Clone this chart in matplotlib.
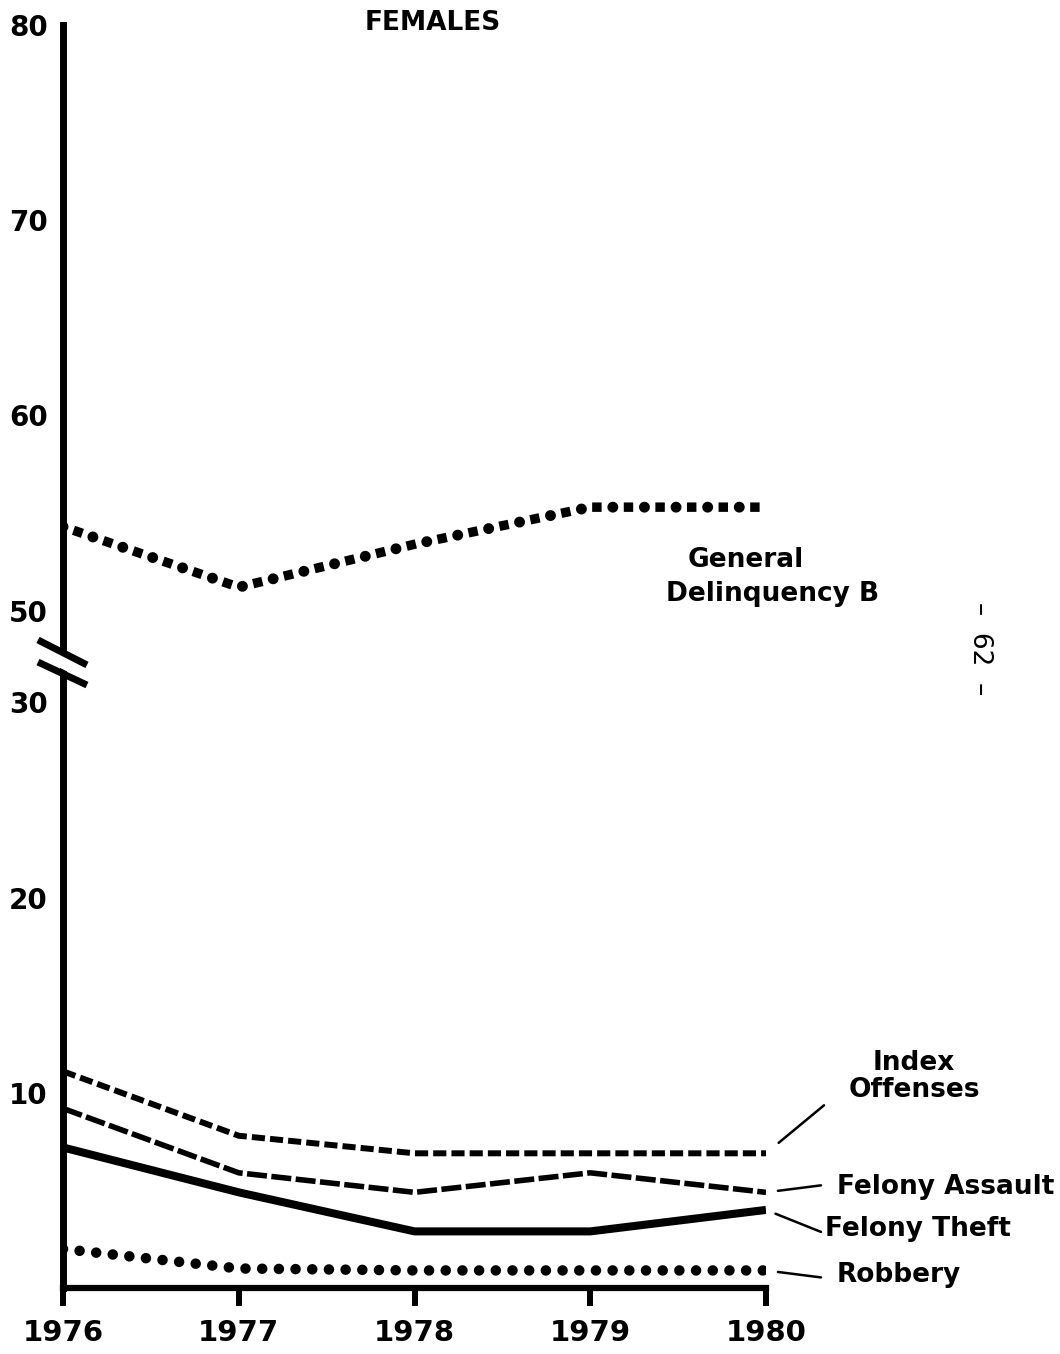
import numpy as np
import matplotlib
matplotlib.use("Agg")
import matplotlib.pyplot as plt

plt.rcParams['font.family'] = ['DejaVu Sans']
plt.rcParams['font.weight'] = 'bold'

years = [1976, 1977, 1978, 1979, 1980]
general_delinquency = [54.3, 51.2, 53.4, 55.3, 55.3]
index_offenses = [11.1, 7.8, 6.9, 6.9, 6.9]
felony_assault = [9.2, 5.9, 4.9, 5.9, 4.9]
felony_theft = [7.2, 4.9, 2.9, 2.9, 4.0]
robbery = [2.0, 1.0, 0.9, 0.9, 0.9]
ytick_values = [10, 20, 30, 50, 60, 70, 80]


# broken y axis: 30..50 squeezed into a short stretch
def fwd(v):
    v = np.asarray(v, dtype=float)
    return np.where(v <= 30, v, np.where(v >= 50, v - 15.3, 30 + (v - 30) * 0.235))


def inv(d):
    d = np.asarray(d, dtype=float)
    return np.where(d <= 30, d, np.where(d >= 34.7, d + 15.3, 30 + (d - 30) / 0.235))


fig = plt.figure(figsize=(10.6, 13.54), dpi=100)
ax = fig.add_axes([63 / 1060, 1 - 1288 / 1354, 703 / 1060, 1263 / 1354])
ax.set_yscale('function', functions=(fwd, inv))
ax.set_xlim(1976, 1980)
ax.set_ylim(0, 80)

# General Delinquency B: alternating circles and squares
ax.plot(years, general_delinquency, color='black', lw=7.9,
        linestyle=(0, (0.001, 2.88)), dash_capstyle='round')
ax.plot(years, general_delinquency, color='black', lw=6.8,
        linestyle=(1.67, (0.001, 3.345)), dash_capstyle='projecting')

ax.plot(years, index_offenses, color='black', lw=4.3,
        linestyle=(0, (2.2, 0.85)), dash_capstyle='butt')
ax.plot(years, felony_assault, color='black', lw=4.0,
        linestyle=(0, (3.6, 0.8)), dash_capstyle='butt')
ax.plot(years, felony_theft, color='black', lw=5.8, solid_capstyle='butt')
ax.plot(years, robbery, color='black', lw=7.6,
        linestyle=(0, (0.001, 1.58)), dash_capstyle='round')

for s in ['top', 'right']:
    ax.spines[s].set_visible(False)
ax.spines['left'].set_linewidth(5)
ax.spines['bottom'].set_linewidth(4.5)

ax.set_xticks(years)
ax.set_xticklabels([str(y) for y in years], fontsize=21, fontweight='bold')
ax.tick_params(axis='x', length=13, width=4.3, pad=9, direction='out')
ax.set_yticks(ytick_values)
ax.set_yticklabels([str(v) for v in ytick_values], fontsize=20, fontweight='bold')
ax.tick_params(axis='y', length=0, pad=11)
ax.minorticks_off()

# axis break marks
ax.plot([-0.012, 0.012], [0.4986, 0.4920], transform=ax.transAxes, color='white',
        lw=9, clip_on=False, zorder=5, solid_capstyle='butt')
ax.plot([-0.0356, 0.0341], [0.5131, 0.4933], transform=ax.transAxes, color='black',
        lw=5, clip_on=False, zorder=6, solid_capstyle='butt')
ax.plot([-0.0356, 0.0341], [0.4956, 0.4774], transform=ax.transAxes, color='black',
        lw=5, clip_on=False, zorder=6, solid_capstyle='butt')

fs = 19
end = years[-1]

# General Delinquency B label
ax.annotate('General', xy=(end, general_delinquency[-1]), xytext=(-20, -53),
            textcoords='offset pixels', ha='center', va='center', fontsize=fs)
ax.annotate('Delinquency B', xy=(end, general_delinquency[-1]), xytext=(7, -87),
            textcoords='offset pixels', ha='center', va='center', fontsize=fs)


def leader(v, p0, p1):
    ax.annotate('', xy=(end, v), xytext=p1, textcoords='offset pixels',
                annotation_clip=False,
                arrowprops=dict(arrowstyle='-', lw=1.8, color='black',
                                shrinkA=0, shrinkB=np.hypot(*p0) * 0.72))


leader(index_offenses[-1], (10, 13), (58, 48))
ax.annotate('Index\nOffenses', xy=(end, index_offenses[-1]), xytext=(148, 77),
            textcoords='offset pixels', ha='center', va='center', fontsize=fs,
            linespacing=1.05, annotation_clip=False)

leader(felony_assault[-1], (12, 1), (55, 7))
ax.annotate('Felony Assault', xy=(end, felony_assault[-1]), xytext=(71, 5),
            textcoords='offset pixels', ha='left', va='center', fontsize=fs,
            annotation_clip=False)

leader(felony_theft[-1], (10, -2), (55, -22))
ax.annotate('Felony Theft', xy=(end, felony_theft[-1]), xytext=(59, -19),
            textcoords='offset pixels', ha='left', va='center', fontsize=fs,
            annotation_clip=False)

leader(robbery[-1], (12, -1), (55, -7))
ax.annotate('Robbery', xy=(end, robbery[-1]), xytext=(71, -5),
            textcoords='offset pixels', ha='left', va='center', fontsize=fs,
            annotation_clip=False)

fig.text(433 / 1060, 1 - 23 / 1354, 'FEMALES', ha='center', va='center',
         fontsize=19, fontweight='bold')
fig.text(980 / 1060, 1 - 649 / 1354, '\u2013  62  \u2013', ha='center', va='center',
         rotation=-90, fontsize=19, fontweight='normal')

fig.savefig('out.png', dpi=100, facecolor='white')
